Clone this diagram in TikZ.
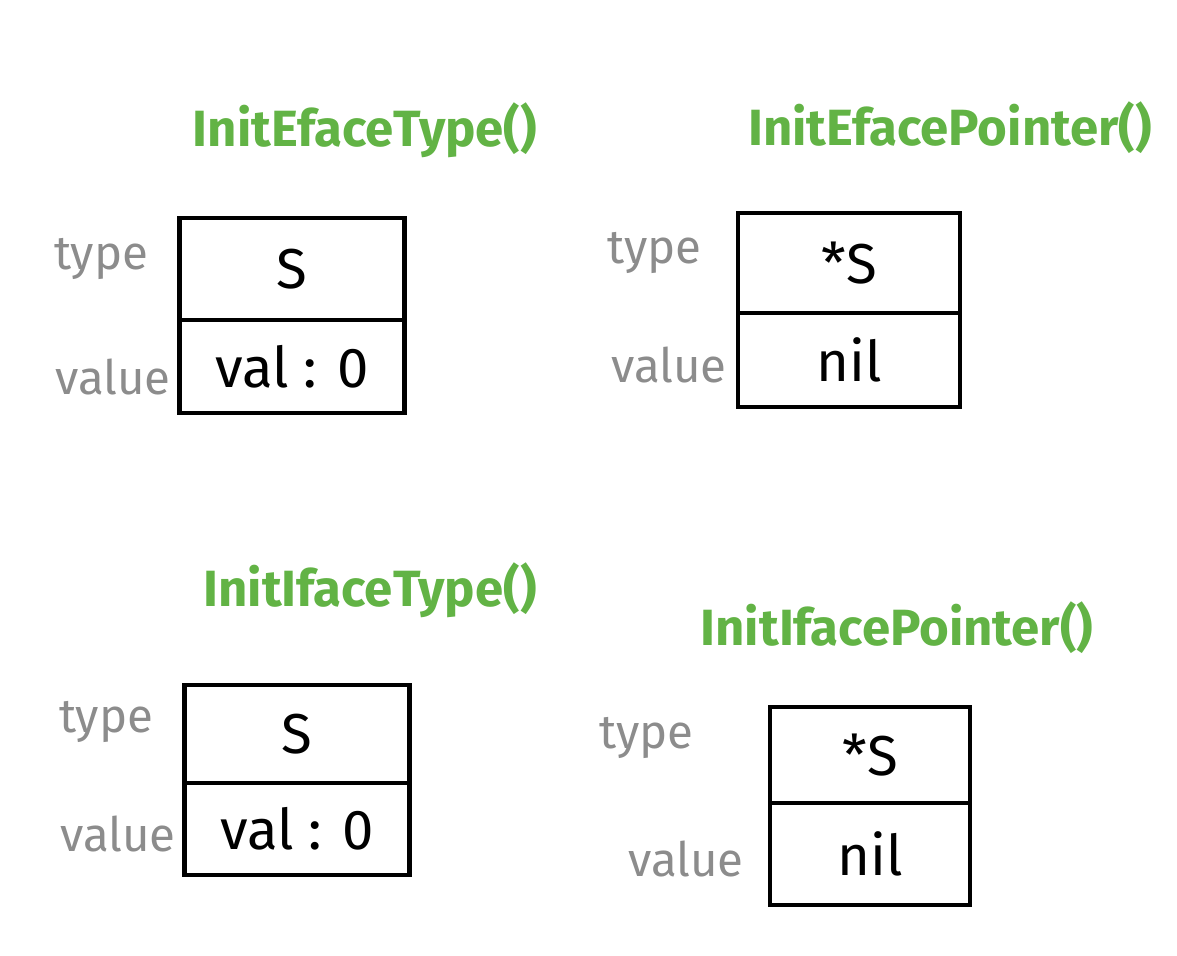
\documentclass[tikz,border=0pt]{standalone}
\usepackage{fontspec}
\setmainfont{Fira Sans}
\usepackage{xcolor}
\definecolor{fngreen}{HTML}{62B345}
\definecolor{lblgray}{HTML}{8C8C8C}
\usetikzlibrary{positioning}

\tikzset{
  cell/.style={draw,line width=2.5pt,outer sep=0pt,inner sep=0pt,
    font=\fontsize{32}{36}\selectfont},
  fname/.style={text=fngreen,font=\fontsize{29}{33}\selectfont\bfseries},
  lbl/.style={text=lblgray,font=\fontsize{27}{31}\selectfont}
}

\begin{document}
\begin{tikzpicture}[x=0.2mm,y=-0.2mm]
\useasboundingbox (0,0) rectangle (1177,955);

% top left
\node[fname] (f1) at (365,130) {InitEfaceType()};
\node[cell,minimum width=4.5cm,minimum height=2.04cm] (t1) at (292,269) {S};
\node[cell,minimum width=4.5cm,minimum height=1.86cm,below=0pt of t1] (v1) {val : 0};
\node[lbl,left=5mm of t1,yshift=2mm] (lt1) {type};
\node[lbl,left=0.5mm of v1,yshift=-2mm] (lv1) {value};

% top right
\node[fname] (f2) at (950,128) {InitEfacePointer()};
\node[cell,minimum width=4.44cm,minimum height=2cm] (t2) at (849,263) {*S};
\node[cell,minimum width=4.44cm,minimum height=1.88cm,below=0pt of t2] (v2) {nil};
\node[lbl,left=6mm of t2,yshift=2mm] (lt2) {type};
\node[lbl,left=1mm of v2,yshift=-1mm] (lv2) {value};

% bottom left
\node[fname] (f3) at (370,590) {InitIfaceType()};
\node[cell,minimum width=4.5cm,minimum height=1.96cm] (t3) at (297,734) {S};
\node[cell,minimum width=4.5cm,minimum height=1.84cm,below=0pt of t3] (v3) {val : 0};
\node[lbl,left=5mm of t3,yshift=2.5mm] (lt3) {type};
\node[lbl,left=0.5mm of v3,yshift=-1mm] (lv3) {value};

% bottom right
\node[fname] (f4) at (897,628) {InitIfacePointer()};
\node[cell,minimum width=4cm,minimum height=1.92cm] (t4) at (870,755) {*S};
\node[cell,minimum width=4cm,minimum height=2.04cm,below=0pt of t4] (v4) {nil};
\node[lbl,left=14mm of t4,yshift=3.5mm] (lt4) {type};
\node[lbl,left=4mm of v4,yshift=-1mm] (lv4) {value};
\end{tikzpicture}
\end{document}
